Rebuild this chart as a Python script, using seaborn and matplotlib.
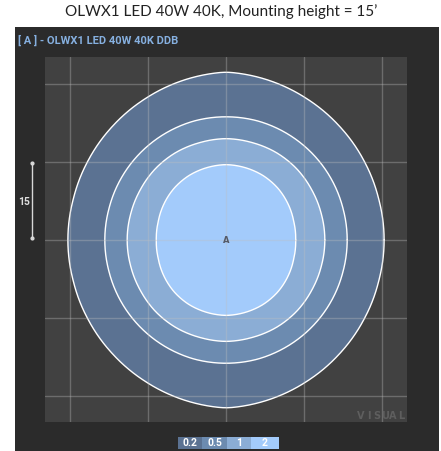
import numpy as np
import pandas as pd
import matplotlib
matplotlib.use("Agg")
import matplotlib.pyplot as plt
from matplotlib.patches import Rectangle
import seaborn as sns

# ---- data ----
title = "OLWX1 LED 40W 40K, Mounting height = 15\u2019"
header = "[ A ] - OLWX1 LED 40W 40K DDB"
levels = [0.2, 0.5, 1, 2]
level_labels = ["0.2", "0.5", "1", "2"]
level_colors = ["#5b7292", "#6c8bb0", "#8badd5", "#a3cbfb"]
# contour radius (ft) at angles measured from the horizontal axis (first quadrant, symmetric)
angles_deg = [0, 15, 30, 45, 60, 75, 90]
radius_02 = [30.4, 30.4, 30.6, 30.9, 31.3, 31.8, 32.3]
radius_05 = [23.3, 23.3, 23.4, 23.5, 23.6, 23.7, 23.7]
radius_1 = [19.0, 19.0, 19.1, 19.3, 19.4, 19.4, 19.5]
radius_2 = [13.4, 13.5, 13.8, 14.1, 14.3, 14.4, 14.5]
grid_ticks = [-30, -15, 0, 15, 30]
dimension_value = 15
watermark = "VISUAL"

sns.set_theme(style="dark")
plt.rcParams["font.family"] = ["DejaVu Sans"]

fig = plt.figure(figsize=(4.41, 4.51), dpi=100)
fig.patch.set_facecolor("white")
W, H = 441, 451

# dark panel
fig.add_artist(Rectangle((15 / W, 0), (439 - 15) / W, 1 - 27 / H,
                         transform=fig.transFigure, facecolor="#2b2b2b",
                         edgecolor="none", zorder=0))

ax = fig.add_axes([45 / W, 1 - 422 / H, 362 / W, 365 / H])
ax.set_facecolor("#414141")
ax.set_xlim(-34.8, 34.8)
ax.set_ylim(-35.0, 35.2)
for s in ax.spines.values():
    s.set_visible(False)
ax.set_xticks([])
ax.set_yticks([])

# contour shapes
radii = [radius_02, radius_05, radius_1, radius_2]
theta_q = np.deg2rad(np.array(angles_deg, dtype=float))
t = np.linspace(0, 2 * np.pi, 720, endpoint=False)
k = np.ones(9) / 9.0
for lev, lab, col, rq in zip(levels, level_labels, level_colors, radii):
    tf = np.abs(np.arctan2(np.sin(t), np.cos(t)))
    tf = np.where(tf > np.pi / 2, np.pi - tf, tf)
    r = np.interp(tf, theta_q, np.array(rq))
    # light circular smoothing of the read outline (keeps a faint cusp at top/bottom)
    rp = np.concatenate([r[-4:], r, r[:4]])
    r = np.convolve(rp, k, mode="valid")
    tt = np.append(t, t[0])
    rr = np.append(r, r[0])
    df = pd.DataFrame({"x": rr * np.cos(tt), "y": rr * np.sin(tt)})
    ax.fill(df["x"], df["y"], color=col, zorder=2, lw=0)
    sns.lineplot(data=df, x="x", y="y", sort=False, estimator=None, ax=ax,
                 color="white", lw=1.0, zorder=3)
ax.set_xlabel("")
ax.set_ylabel("")

# grid lines
for g in grid_ticks:
    ax.axvline(g, color="#bfbfbf", alpha=0.35, lw=1, zorder=4)
    ax.axhline(g, color="#bfbfbf", alpha=0.35, lw=1, zorder=4)

# center marker
ax.text(0, 0, "A", ha="center", va="center", fontsize=6, color="#555a66",
        fontweight="bold", zorder=5)

# watermark
for i, ch in enumerate(watermark):
    fig.text((361 + 8.0 * i) / W, 1 - 416 / H, ch, ha="center", va="center",
             fontsize=7, color="#5e5e5e", fontweight="bold", zorder=6)

# title & header
fig.text(221 / W, 1 - 12 / H, title, ha="center", va="center", fontsize=11,
         family=["Lato", "DejaVu Sans"], color="#222222")
fig.text(18 / W, 1 - 40 / H, header, ha="left", va="center", fontsize=8,
         family=["Roboto", "DejaVu Sans"], fontweight="bold", color="#86b0e0")

# dimension marker
x_dim = 32 / W
y_top = 1 - 163 / H
y_bot = 1 - 238 / H
fig.add_artist(plt.Line2D([x_dim, x_dim], [y_bot, y_top], transform=fig.transFigure,
                          color="#d8d8d8", lw=1, marker="o", markersize=2))
fig.text(24 / W, 1 - 202 / H, str(dimension_value), ha="center", va="center",
         fontsize=7.5, fontweight="bold", color="#dddddd",
         family=["Roboto", "DejaVu Sans"])

# legend boxes
box_x = [178, 202, 227, 251]
box_w = [24, 25, 24, 28]
for bx, bw, lab, col in zip(box_x, box_w, level_labels, level_colors):
    fig.add_artist(Rectangle((bx / W, 1 - 449 / H), bw / W, 12.5 / H,
                             transform=fig.transFigure, facecolor=col,
                             edgecolor="none"))
    fig.text((bx + bw / 2) / W, 1 - 442.5 / H, lab, ha="center", va="center",
             fontsize=7.5, color="white", fontweight="bold",
             family=["Roboto", "DejaVu Sans"])

fig.savefig("out.png", dpi=100)
